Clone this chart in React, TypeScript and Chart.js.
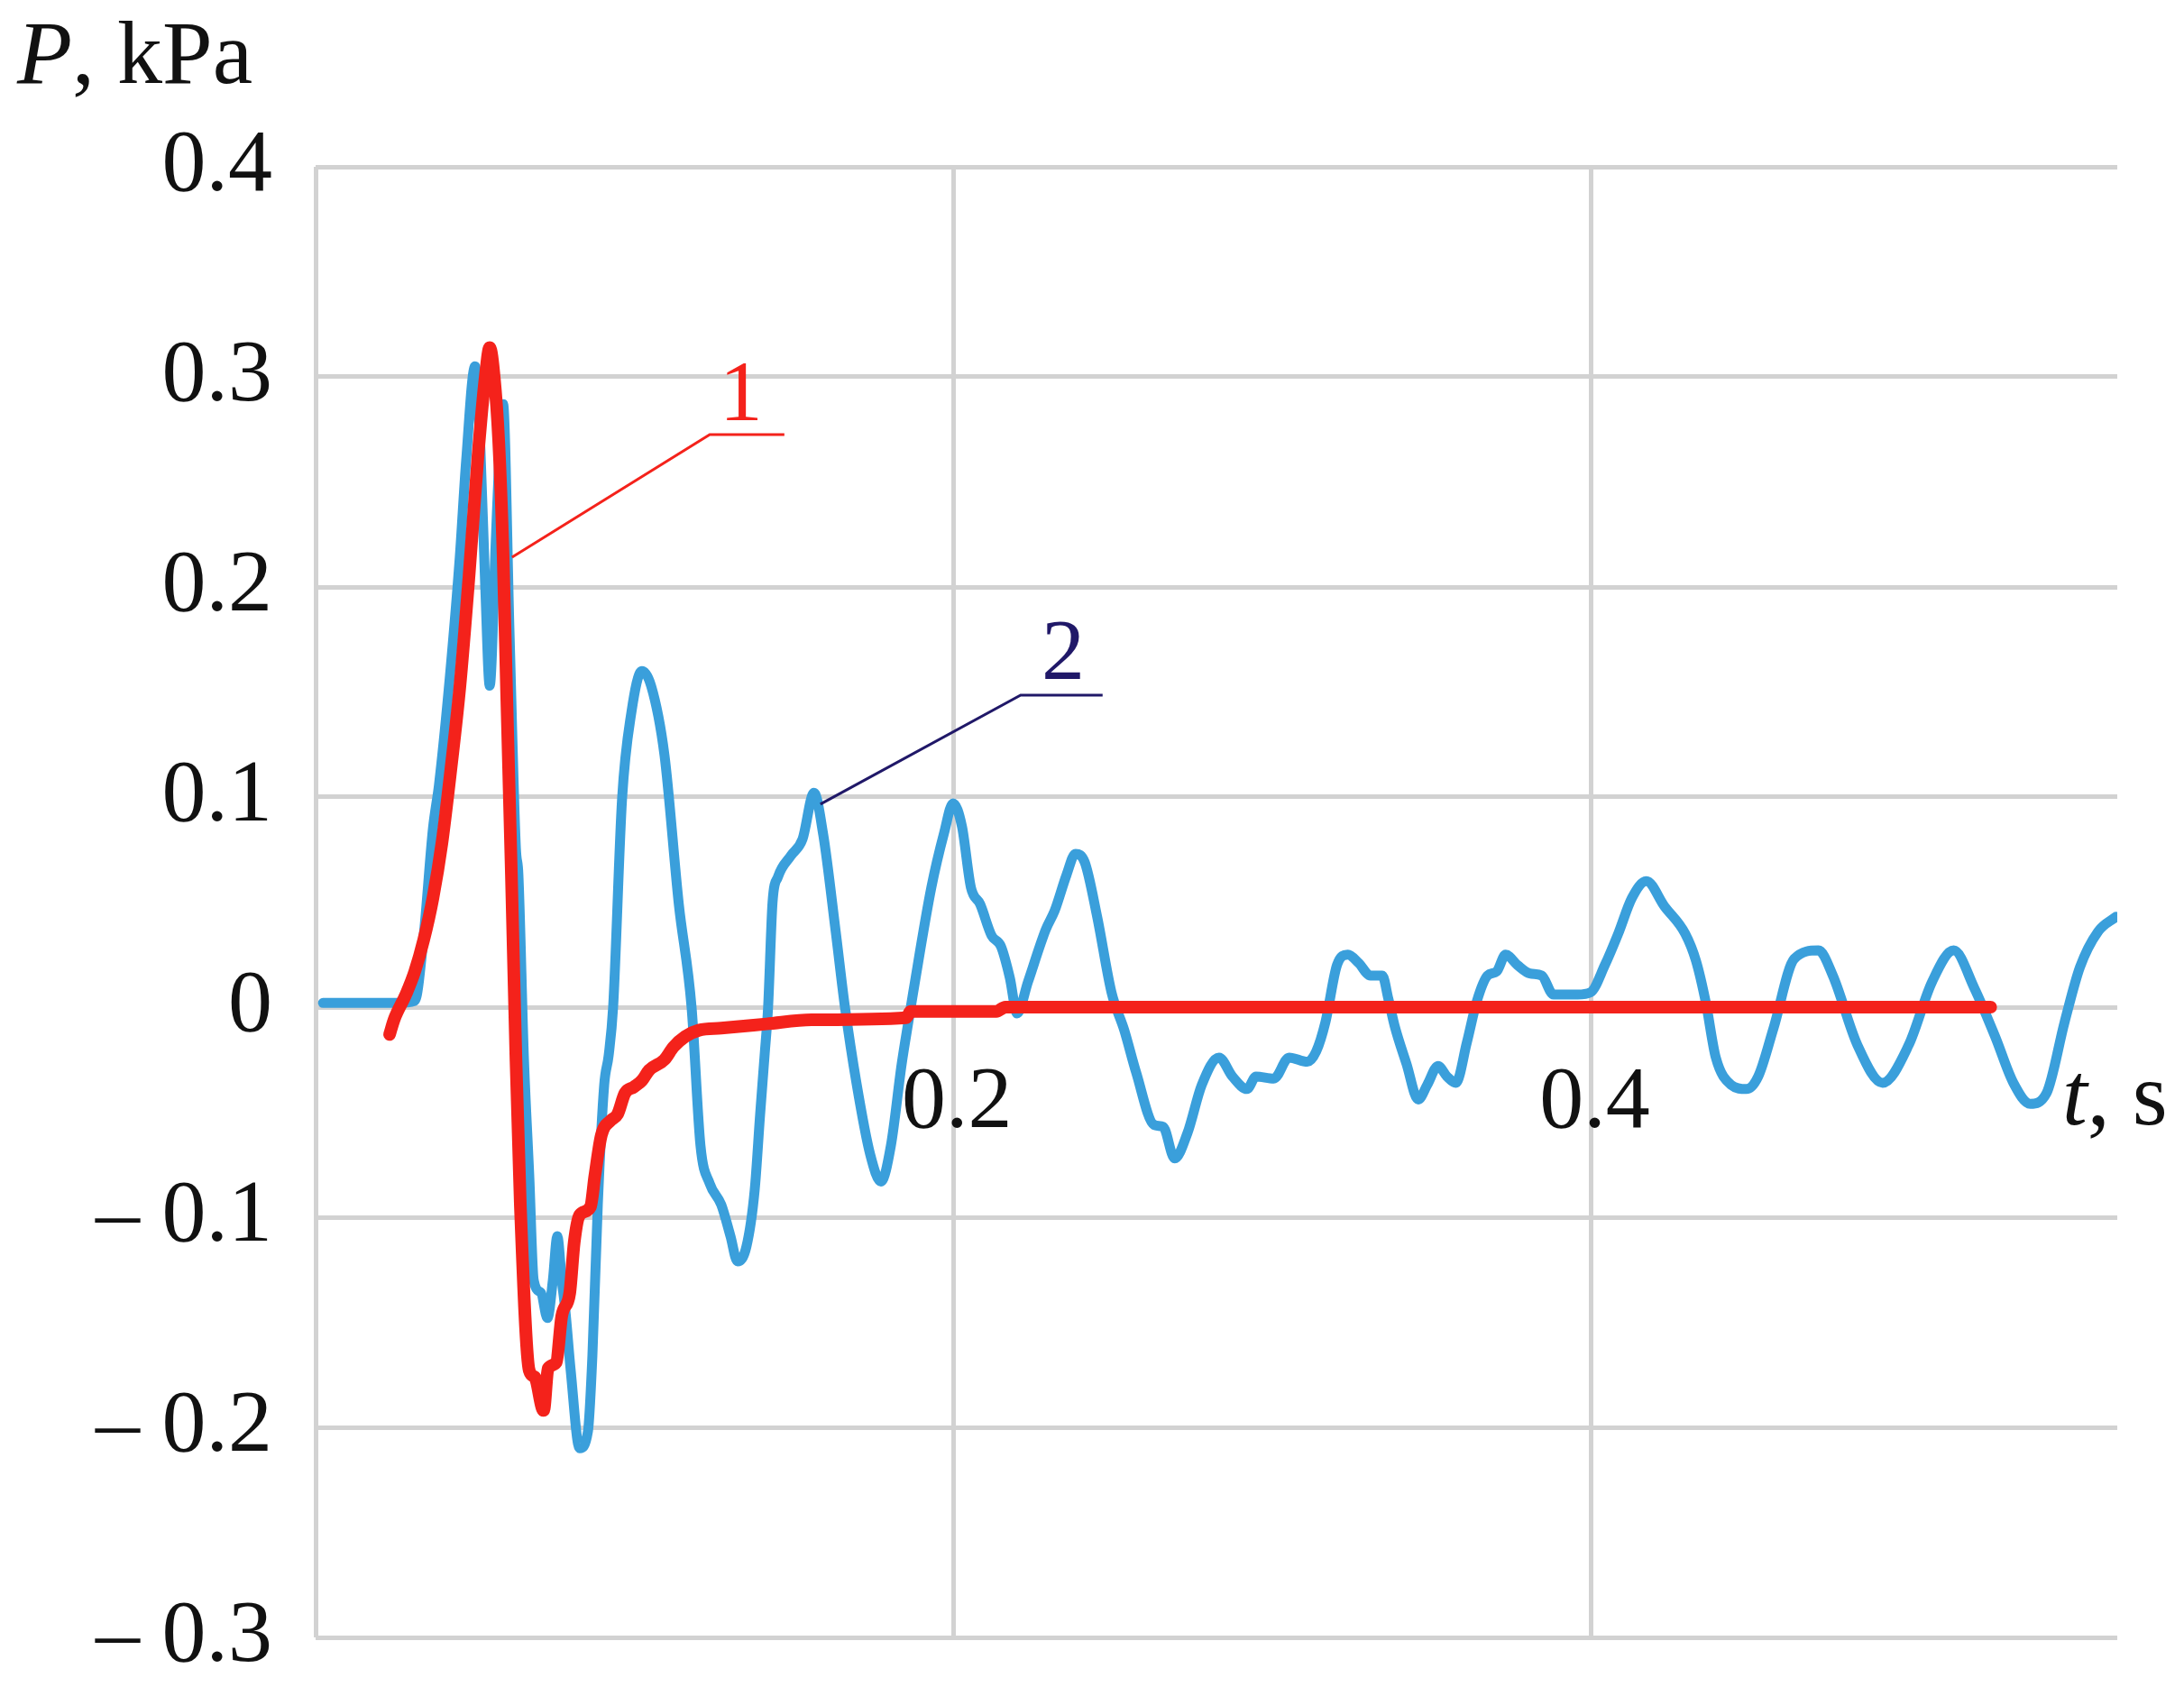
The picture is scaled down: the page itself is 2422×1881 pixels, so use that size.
import React, { useEffect, useRef } from 'react';
import { Chart, registerables } from 'chart.js';

Chart.register(...registerables);

// ---- data ----
// axis ticks
const yTickValues = [-0.3, -0.2, -0.1, 0, 0.1, 0.2, 0.3, 0.4];
const xTickValues = [0.2, 0.4];
const xTickLabels = ['0.2', '0.4'];

// curve 1 (red): time, s
const curve1T = [
  0.0232, 0.0246, 0.0283, 0.0311, 0.0339, 0.0368, 0.0396, 0.0424, 0.0452, 0.0481,
  0.0509, 0.0532, 0.0546, 0.056, 0.0574, 0.0588, 0.0599, 0.0614, 0.0628, 0.0642,
  0.067, 0.0687, 0.0715, 0.0729, 0.0755, 0.0772, 0.0797, 0.0811, 0.0828, 0.0862,
  0.0876, 0.0896, 0.0925, 0.0947, 0.097, 0.0998, 0.1023, 0.1046, 0.1094, 0.1122,
  0.1159, 0.1202, 0.1272, 0.1414, 0.1555, 0.1852, 0.1866, 0.2135, 0.2163, 0.5253,
];
// curve 1 (red): pressure, kPa
const curve1P = [
  -0.013, -0.006, 0.006, 0.017, 0.032, 0.052, 0.078, 0.113, 0.152, 0.205,
  0.262, 0.3, 0.314, 0.3, 0.27, 0.215, 0.15, 0.063, -0.023, -0.094,
  -0.173, -0.176, -0.192, -0.172, -0.169, -0.147, -0.136, -0.112, -0.099, -0.095,
  -0.08, -0.061, -0.054, -0.051, -0.041, -0.038, -0.035, -0.03, -0.025, -0.019,
  -0.014, -0.011, -0.01, -0.008, -0.006, -0.005, -0.002, -0.002, 0, 0,
];

// curve 2 (blue): time, s
const curve2T = [
  0.0023, 0.0141, 0.0254, 0.0311, 0.0339, 0.0368, 0.0387, 0.0416, 0.0452, 0.0472,
  0.05, 0.0517, 0.0532, 0.0546, 0.0565, 0.0577, 0.0588, 0.0608, 0.0628, 0.0636,
  0.0653, 0.067, 0.0684, 0.0707, 0.0727, 0.0744, 0.0758, 0.0772, 0.0783, 0.08,
  0.0828, 0.0854, 0.0868, 0.0885, 0.0905, 0.0919, 0.0933, 0.0961, 0.099, 0.1023,
  0.1052, 0.1094, 0.1139, 0.1179, 0.1207, 0.1236, 0.1272, 0.1301, 0.1323, 0.1351,
  0.1377, 0.1394, 0.1408, 0.1419, 0.1433, 0.145, 0.149, 0.1527, 0.1563, 0.1592,
  0.1631, 0.166, 0.1696, 0.1739, 0.1773, 0.1804, 0.1838, 0.186, 0.1874, 0.1931,
  0.1971, 0.1999, 0.2027, 0.2055, 0.2084, 0.212, 0.2149, 0.2177, 0.22, 0.2234,
  0.229, 0.2318, 0.2355, 0.2383, 0.2412, 0.2451, 0.2496, 0.2536, 0.2573, 0.2629,
  0.2658, 0.2694, 0.2734, 0.2779, 0.2833, 0.2875, 0.2921, 0.2949, 0.3005, 0.3053,
  0.311, 0.3138, 0.3167, 0.3203, 0.3237, 0.3271, 0.3308, 0.3345, 0.3364, 0.3384,
  0.3421, 0.3458, 0.3486, 0.352, 0.3548, 0.3576, 0.361, 0.3642, 0.3675, 0.3704,
  0.3732, 0.3769, 0.3808, 0.3845, 0.3882, 0.3921, 0.3958, 0.3998, 0.4043, 0.4085,
  0.4128, 0.4173, 0.423, 0.4295, 0.4329, 0.436, 0.4391, 0.4439, 0.4487, 0.4524,
  0.4572, 0.4637, 0.4713, 0.4758, 0.4835, 0.4914, 0.4996, 0.5069, 0.5137, 0.5202,
  0.5267, 0.5324, 0.5377, 0.5428, 0.5485, 0.5533, 0.559, 0.5646,
];
// curve 2 (blue): pressure, kPa
const curve2P = [
  0.002, 0.002, 0.002, 0.003, 0.034, 0.085, 0.106, 0.149, 0.214, 0.26,
  0.305, 0.265, 0.2, 0.153, 0.222, 0.265, 0.287, 0.179, 0.076, 0.063,
  -0.023, -0.08, -0.13, -0.136, -0.148, -0.13, -0.109, -0.13, -0.144, -0.173,
  -0.21, -0.202, -0.166, -0.094, -0.037, -0.023, 0, 0.099, 0.14, 0.16,
  0.153, 0.12, 0.049, 0, -0.066, -0.084, -0.094, -0.109, -0.121, -0.114,
  -0.087, -0.051, -0.023, 0, 0.05, 0.062, 0.072, 0.08, 0.102, 0.082,
  0.036, 0, -0.036, -0.07, -0.083, -0.066, -0.027, -0.006, 0.007, 0.057,
  0.083, 0.097, 0.086, 0.057, 0.049, 0.034, 0.029, 0.014, -0.003, 0.012,
  0.037, 0.046, 0.063, 0.073, 0.069, 0.043, 0.007, -0.011, -0.031, -0.056,
  -0.057, -0.072, -0.06, -0.037, -0.024, -0.033, -0.039, -0.033, -0.034, -0.024,
  -0.026, -0.021, -0.007, 0.02, 0.025, 0.021, 0.015, 0.015, 0.004, -0.009,
  -0.027, -0.044, -0.037, -0.028, -0.033, -0.036, -0.017, 0.003, 0.015, 0.017,
  0.025, 0.02, 0.016, 0.015, 0.006, 0.006, 0.006, 0.007, 0.02, 0.035,
  0.052, 0.06, 0.048, 0.035, 0.022, 0.002, -0.024, -0.037, -0.039, -0.033,
  -0.01, 0.023, 0.027, 0.015, -0.018, -0.036, -0.018, 0.012, 0.027, 0.009,
  -0.014, -0.036, -0.046, -0.041, -0.007, 0.019, 0.036, 0.043,
];

const FONT = '"Liberation Serif", "Times New Roman", serif';
const RED = '#f4221b';
const BLUE = '#3a9fdb';
const NAVY = '#201868';
const GRID = '#d2d2d2';

function fmtY(v: number): string {
  const r = Math.round(v * 10) / 10;
  if (r === 0) return '0';
  if (r < 0) return '\u2013 ' + Math.abs(r).toFixed(1);
  return r.toFixed(1);
}

const overlayPlugin = {
  id: 'overlay',
  afterDraw(chart: any) {
    const ctx = chart.ctx as CanvasRenderingContext2D;
    const xs = chart.scales.x;
    const ys = chart.scales.y;
    const px = (t: number) => xs.getPixelForValue(t);
    const py = (v: number) => ys.getPixelForValue(v);
    ctx.save();

    // x tick labels (placed just under the zero line)
    ctx.fillStyle = '#111';
    ctx.font = `98px ${FONT}`;
    ctx.textAlign = 'center';
    ctx.textBaseline = 'alphabetic';
    xTickValues.forEach((v, i) => {
      ctx.fillText(xTickLabels[i], px(v) + 4, py(0) + 133);
    });

    // x axis title "t, s"
    ctx.textAlign = 'left';
    const tx = chart.chartArea.right - 61;
    const tyb = py(0) + 130;
    ctx.font = `italic 100px ${FONT}`;
    ctx.fillText('t', tx, tyb);
    const tw = ctx.measureText('t').width;
    ctx.font = `100px ${FONT}`;
    ctx.fillText(', s', tx + tw, tyb);

    // y axis title "P, kPa"
    const pyb = chart.chartArea.top - 93;
    ctx.font = `italic 100px ${FONT}`;
    ctx.fillText('P', 19, pyb);
    const pw = ctx.measureText('P').width;
    ctx.font = `100px ${FONT}`;
    ctx.fillText(', kPa', 19 + pw, pyb);

    // leader + label 1
    ctx.lineWidth = 3;
    ctx.strokeStyle = RED;
    ctx.beginPath();
    ctx.moveTo(px(0.0616), py(0.2142));
    ctx.lineTo(px(0.1236), py(0.2725));
    ctx.lineTo(px(0.147), py(0.2725));
    ctx.stroke();
    ctx.fillStyle = RED;
    ctx.font = `96px ${FONT}`;
    ctx.textAlign = 'center';
    ctx.fillText('1', px(0.1334), py(0.2794));

    // leader + label 2
    ctx.strokeStyle = NAVY;
    ctx.beginPath();
    ctx.moveTo(px(0.1583), py(0.0966));
    ctx.lineTo(px(0.2211), py(0.1485));
    ctx.lineTo(px(0.2468), py(0.1485));
    ctx.stroke();
    ctx.fillStyle = NAVY;
    ctx.fillText('2', px(0.2344), py(0.1562));

    ctx.restore();
  },
};

export default function App() {
  const ref = useRef<HTMLCanvasElement>(null);

  useEffect(() => {
    if (!ref.current) return;
    const chart = new Chart(ref.current, {
      type: 'line',
      data: {
        datasets: [
          {
            label: '1',
            data: curve1T.map((t, i) => ({ x: t, y: curve1P[i] })),
            borderColor: RED,
            backgroundColor: RED,
            borderWidth: 14,
            pointRadius: 0,
            cubicInterpolationMode: 'monotone',
            borderCapStyle: 'round',
            borderJoinStyle: 'round',
            fill: false,
          },
          {
            label: '2',
            data: curve2T.map((t, i) => ({ x: t, y: curve2P[i] })),
            borderColor: BLUE,
            backgroundColor: BLUE,
            borderWidth: 11,
            pointRadius: 0,
            cubicInterpolationMode: 'monotone',
            borderCapStyle: 'round',
            borderJoinStyle: 'round',
            fill: false,
          },
        ],
      },
      options: {
        responsive: false,
        animation: false,
        devicePixelRatio: 1,
        layout: { padding: { left: 0, right: 74, top: 185, bottom: 65 } },
        plugins: {
          legend: { display: false },
          tooltip: { enabled: false },
        },
        scales: {
          x: {
            type: 'linear',
            min: 0,
            max: 0.565,
            border: { display: false },
            grid: { color: GRID, lineWidth: 5, drawTicks: false },
            ticks: { display: false, stepSize: 0.2, includeBounds: false },
            afterFit: (s: any) => {
              s.height = 0;
            },
          },
          y: {
            type: 'linear',
            position: 'left',
            min: -0.3,
            max: 0.4,
            border: { display: false },
            grid: { color: GRID, lineWidth: 5, drawTicks: false },
            afterBuildTicks: (s: any) => {
              s.ticks = yTickValues.map((v) => ({ value: v }));
            },
            ticks: {
              padding: 48,
              color: '#111',
              font: { family: FONT, size: 98 },
              callback: (v: any) => fmtY(Number(v)),
            },
            afterFit: (s: any) => {
              s.width = 350;
              s.paddingTop = 0;
              s.paddingBottom = 0;
            },
          },
        },
      },
      plugins: [overlayPlugin],
    } as any);
    return () => chart.destroy();
  }, []);

  return (
    <div
      style={{
        position: 'absolute',
        left: 0,
        top: 0,
        width: 2422,
        height: 1881,
        background: '#ffffff',
      }}
    >
      <canvas ref={ref} width={2422} height={1881} style={{ display: 'block', width: 2422, height: 1881 }} />
    </div>
  );
}
